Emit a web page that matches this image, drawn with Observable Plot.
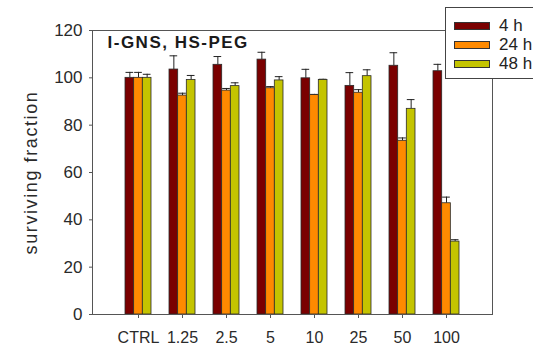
<!DOCTYPE html>
<html><head><meta charset="utf-8">
<script src="https://cdn.jsdelivr.net/npm/d3@7"></script>
<script src="https://cdn.jsdelivr.net/npm/@observablehq/plot@0.6"></script>
<style>
body{margin:0;background:#fff;}
#wrap{position:relative;width:533px;height:346px;overflow:hidden;font-family:"Liberation Sans",Arial,sans-serif;}
#legend{position:absolute;left:445px;top:7px;width:95px;height:72px;border:1px solid #444;background:#fff;box-sizing:border-box;}
.row{position:absolute;left:8px;height:19px;display:flex;align-items:center;font-size:17px;color:#222;}
.sw{width:36px;height:8px;border:1px solid #333;margin-right:9px;box-sizing:border-box;}
</style>
</head><body>
<div id="wrap"><div id="legend"></div></div>
<script>
const doses = ["CTRL","1.25","2.5","5","10","25","50","100"];
const series = ["4 h","24 h","48 h"];
const colors = ["#7a0000","#ff8a00","#c4c400"];
const mean4  = [100,103.5,105.5,107.7,99.8,96.6,105.1,102.8];
const err4   = [2.3,5.8,3.5,3.1,3.8,5.6,5.5,2.9];
const mean24 = [100,92.5,94.6,95.6,92.7,93.7,73.4,47.0];
const err24  = [2.3,1.0,0.9,0.7,0.3,1.3,1.2,2.6];
const mean48 = [100,99.1,96.5,98.9,99.1,100.7,86.9,30.8];
const err48  = [1.5,1.9,1.4,1.6,0.3,2.7,3.9,0.8];
const yTicks = [0,20,40,60,80,100,120];
const title = "I-GNS, HS-PEG";
const yLabel = "surviving fraction";

const means = [mean4, mean24, mean48];
const errs = [err4, err24, err48];

const W = 533, H = 346, ml = 92, mr = 41, mt = 30, mb = 32;
const pIn = 0.41, pOut = 0.75;
const step = (W - ml - mr) / (doses.length - pIn + 2 * pOut);
const bw = step * (1 - pIn);
const sub = bw / series.length;

const marks = [];
series.forEach((s, i) => {
  const rows = doses.map((d, j) => ({dose: d, series: s, value: means[i][j], err: errs[i][j]}));
  const insetLeft = sub * i, insetRight = sub * (series.length - 1 - i);
  const dx = (i - (series.length - 1) / 2) * sub;
  marks.push(Plot.ruleX(rows, {x: "dose", y1: "value", y2: d => d.value + d.err, dx, stroke: "#222", strokeWidth: 1}));
  marks.push(Plot.tickY(rows, {x: "dose", y: d => d.value + d.err, insetLeft: insetLeft + 0.5, insetRight: insetRight + 0.5, stroke: "#222", strokeWidth: 1}));
  marks.push(Plot.barY(rows, {x: "dose", y: "value", fill: colors[i], stroke: "#2a2a2a", strokeWidth: 0.8, insetLeft, insetRight}));
});

const chart = Plot.plot({
  width: W, height: H,
  marginLeft: ml, marginRight: mr, marginTop: mt, marginBottom: mb,
  style: {fontSize: "17px", fontFamily: "'Liberation Sans', Arial, sans-serif", color: "#2a2a2a", background: "#fff"},
  x: {domain: doses, paddingInner: pIn, paddingOuter: pOut, axis: null},
  y: {domain: [0, 120], axis: null},
  marks: [
    ...marks,
    Plot.frame({stroke: "#555", strokeWidth: 1}),
    Plot.axisY({ticks: yTicks, tickSize: 3, tickPadding: 7, label: null, stroke: "#555"}),
    Plot.axisX({tickSize: 4, tickPadding: 13, label: null, stroke: "#555", fontSize: 16}),
    Plot.text([title], {frameAnchor: "top-left", dx: 15, dy: 5, lineAnchor: "top", textAnchor: "start", fontWeight: "bold", fontSize: 17, fill: "#1a1a1a", style: "letter-spacing:1.5px"}),
    Plot.text([yLabel], {frameAnchor: "left", dx: -61, rotate: -90, textAnchor: "middle", lineAnchor: "middle", fontSize: 18, fill: "#2a2a2a"})
  ]
});
const wrap = document.getElementById("wrap");
wrap.insertBefore(chart, wrap.firstChild);
chart.querySelectorAll("text").forEach(t => { if (t.textContent === title) t.setAttribute("letter-spacing", "1.5"); if (t.textContent === yLabel) t.setAttribute("letter-spacing", "1.6"); });

const legend = document.getElementById("legend");
series.forEach((s, i) => {
  const r = document.createElement("div");
  r.className = "row";
  r.style.top = (8 + i * 19.3) + "px";
  const sw = document.createElement("div");
  sw.className = "sw";
  sw.style.background = colors[i];
  r.appendChild(sw);
  r.appendChild(document.createTextNode(s));
  legend.appendChild(r);
});
</script>
</body></html>
